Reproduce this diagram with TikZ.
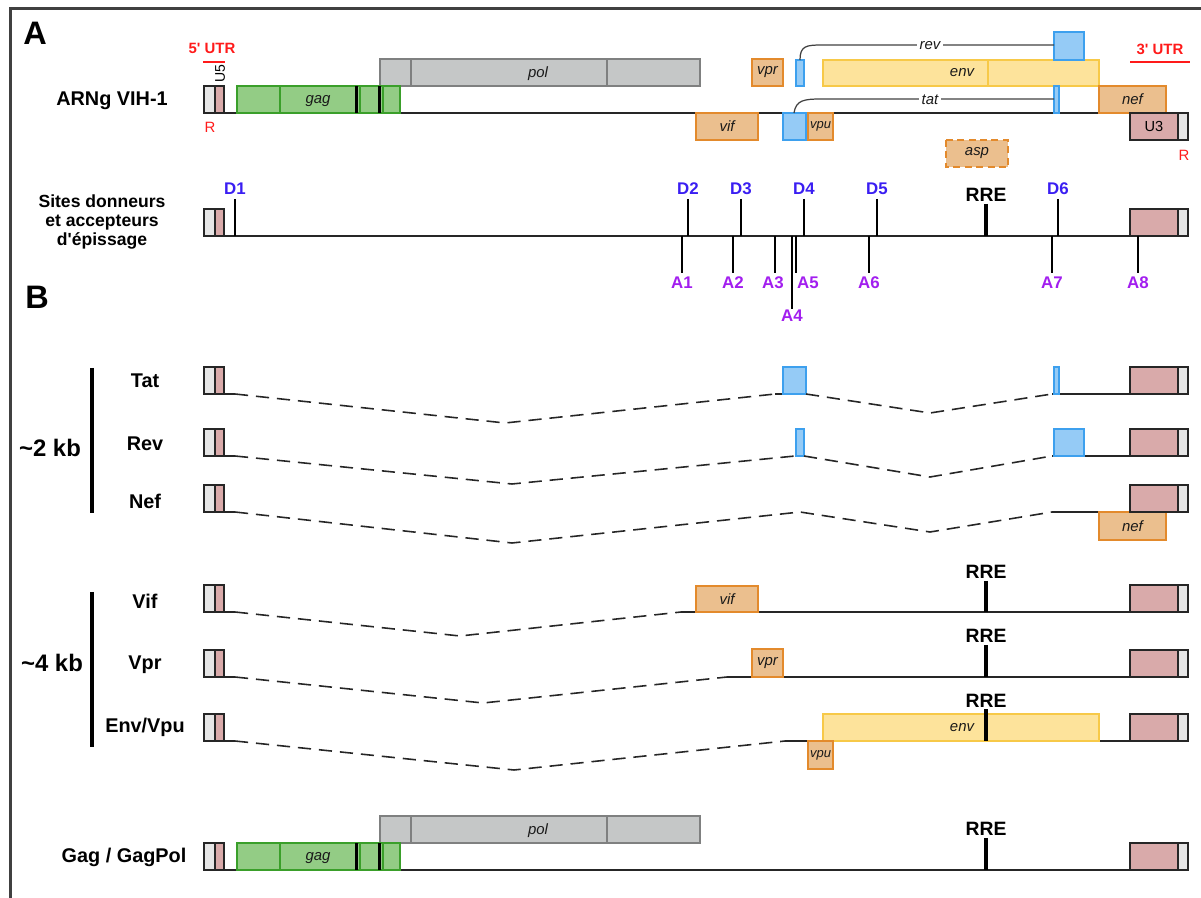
\documentclass[tikz,border=0pt]{standalone}
\usepackage{fontspec}
\setmainfont{Liberation Sans}
\usetikzlibrary{positioning}
\definecolor{rcol}{HTML}{E6E6E6}
\definecolor{ucol}{HTML}{D9AAAA}
\definecolor{gagfill}{HTML}{93CC85}
\definecolor{gagline}{HTML}{3A9F2A}
\definecolor{polfill}{HTML}{C5C7C7}
\definecolor{polline}{HTML}{7F8080}
\definecolor{accfill}{HTML}{EBBF8E}
\definecolor{accline}{HTML}{E38A2C}
\definecolor{revfill}{HTML}{95CBF6}
\definecolor{revline}{HTML}{3DA0EE}
\definecolor{envfill}{HTML}{FDE39B}
\definecolor{envline}{HTML}{F7C948}
\definecolor{utrred}{HTML}{FF1A1A}
\definecolor{donor}{HTML}{3A1EF2}
\definecolor{acceptor}{HTML}{A21EEF}
\definecolor{darktext}{HTML}{1A1A1A}

% LTR ends of an RNA whose line sits at y=#1
\newcommand{\ltrleft}[1]{%
  \draw[ltr, fill=rcol] (204,#1-27) rectangle (215,#1);
  \draw[ltr, fill=ucol] (215,#1-27) rectangle (224,#1);}
\newcommand{\ltrright}[1]{%
  \draw[ltr, fill=ucol] (1130,#1-27) rectangle (1178,#1);
  \draw[ltr, fill=rcol] (1178,#1-27) rectangle (1188,#1);}
% gag and pol frames
\newcommand{\gagpol}[1]{%
  \draw[polbox] (380,#1-54) rectangle (700,#1-27);
  \draw[draw=polline, line width=0.9pt] (411,#1-54) -- (411,#1-27) (607,#1-54) -- (607,#1-27);
  \node[gene] (pol#1) at (538,#1-39) {pol};
  \draw[gagbox] (237,#1-27) rectangle (400,#1);
  \draw[draw=gagline, line width=0.9pt] (280,#1-27) -- (280,#1) (360,#1-27) -- (360,#1) (383,#1-27) -- (383,#1);
  \draw[line width=1.8pt] (356.5,#1-27) -- (356.5,#1) (379.5,#1-27) -- (379.5,#1);
  \node[gene] (gag#1) at (318,#1-12) {gag};}

\begin{document}
\begin{tikzpicture}[x=0.02cm, y=-0.02cm,
  rna/.style={line width=0.9pt, draw=black!85},
  intron/.style={rna, dash pattern=on 7.5pt off 4.5pt},
  ltr/.style={draw=black!85, line width=0.9pt},
  gagbox/.style={draw=gagline, fill=gagfill, line width=0.9pt},
  polbox/.style={draw=polline, fill=polfill, line width=0.9pt},
  accbox/.style={draw=accline, fill=accfill, line width=0.9pt},
  revbox/.style={draw=revline, fill=revfill, line width=0.8pt},
  envbox/.style={draw=envline, fill=envfill, line width=0.9pt},
  gene/.style={font=\fontsize{8.5}{10}\selectfont\itshape, text=darktext},
  small/.style={font=\fontsize{7.4}{9}\selectfont\itshape, text=darktext},
  rowlab/.style={font=\fontsize{11.3}{13}\selectfont\bfseries, align=center},
  panel/.style={font=\fontsize{18.5}{20}\selectfont\bfseries},
  sizelab/.style={font=\fontsize{13.6}{15}\selectfont\bfseries},
  utr/.style={font=\fontsize{8.5}{10}\selectfont\bfseries, text=utrred},
  rlab/.style={font=\fontsize{8.5}{10}\selectfont, text=utrred},
  dsite/.style={font=\fontsize{9.6}{11}\selectfont\bfseries, text=donor},
  asite/.style={font=\fontsize{9.6}{11}\selectfont\bfseries, text=acceptor},
  sitetick/.style={line width=0.9pt},
  rre/.style={line width=2.8pt},
  rrelab/.style={font=\fontsize{11}{13}\selectfont\bfseries},
  kbbar/.style={line width=2.5pt},
]
\clip (0,0) rectangle (1201,898);
\draw[line width=1.2pt, draw=black!75] (10.5,910) -- (10.5,8.5) -- (1215,8.5);

% ---- A : genome
\node[panel] (pA) at (35,33) {A};
\node[utr] (utr5) at (212,48) {5\textquotesingle{} UTR};
\draw[utrred, line width=1.2pt] (203,62) -- (225,62);
\node[utr] (utr3) at (1160,49) {3\textquotesingle{} UTR};
\draw[utrred, line width=1.2pt] (1130,62) -- (1190,62);
\node[rowlab] (arng) at (112,101) {ARNg VIH-1};
\draw[rna] (204,113) -- (1188,113);
\gagpol{113}
\ltrleft{113}
\node[font=\fontsize{8}{9}\selectfont, rotate=90] (u5) at (220,74) {U5};
\node[rlab] (r5) at (210,127) {R};
\draw[accbox] (696,113) rectangle (758,140) node[midway, gene] (vif) {vif};
\draw[accbox] (752,59) rectangle (783,86) node[midway, gene] (vpr) {vpr};
\draw[revbox] (796,60) rectangle (804,86);
\draw[envbox] (823,60) rectangle (1099,86);
\draw[draw=envline, line width=0.9pt] (988,60) -- (988,86);
\node[gene] (env) at (962,73) {env};
\draw[revbox] (1054,32) rectangle (1084,60);
\draw[revbox] (1054,86) rectangle (1059,113);
\draw[revbox] (783,113) rectangle (806,140);
\draw[accbox] (808,113) rectangle (833,140) node[midway, small] (vpu) {vpu};
\draw[accbox] (1099,86) rectangle (1166,113) node[midway, gene] (nef) {nef};
\draw[ltr, fill=ucol] (1130,113) rectangle (1178,140) node[midway, font=\fontsize{8.3}{9}\selectfont] (u3) {U3};
\draw[ltr, fill=rcol] (1178,113) rectangle (1188,140);
\node[rlab] (r3) at (1184,155) {R};
\draw[accbox, dash pattern=on 4pt off 2.5pt] (946,140) rectangle (1008,167) node[midway, gene] (asp) {asp};
% rev and tat exon links
\coordinate (revS) at (800,60);
\coordinate (revE) at (1054,45);
\coordinate (tatS) at (794,113);
\coordinate (tatE) at (1054,99);
\draw[line width=0.7pt, black!75] (revS) .. controls (800,46) and (806,45) .. (822,45) -- (revE);
\draw[line width=0.7pt, black!75] (tatS) .. controls (796,100) and (804,99) .. (822,99) -- (tatE);
\node[gene, fill=white, inner sep=1.5pt] (rev) at (930,46) {rev};
\node[gene, fill=white, inner sep=1.5pt] (tat) at (930,100) {tat};

% ---- A : splice sites
\node[rowlab, font=\fontsize{10}{10.6}\selectfont\bfseries] (sites) at (102,222) {Sites donneurs\\et accepteurs\\d\textquotesingle{}épissage};
\draw[rna] (204,236) -- (1188,236);
\ltrleft{236}
\ltrright{236}
\foreach \x/\n in {235/1,688/2,741/3,804/4,877/5,1058/6}{
  \draw[sitetick] (\x,199) -- (\x,236);
  \node[dsite] (D\n) at (\x,189) {D\n};
}
\foreach \x/\lx/\n in {682/682/1,733/733/2,775/773/3,796/808/5,869/869/6,1052/1052/7,1138/1138/8}{
  \draw[sitetick] (\x,236) -- (\x,273);
  \node[asite] (A\n) at (\lx,283) {A\n};
}
\draw[sitetick] (792,236) -- (792,309);
\node[asite] (A4) at (792,316) {A4};
\draw[rre] (986,204) -- (986,236);
\node[rrelab] (rre0) at (986,195) {RRE};

% ---- B : ~2 kb
\node[panel] (pB) at (37,297) {B};
\draw[kbbar] (92,368) -- (92,513);
\node[sizelab] (kb2) at (50,448) {\textasciitilde2 kb};
\node[rowlab] (tatrow) at (145,381) {Tat};
\node[rowlab] (revrow) at (145,444) {Rev};
\node[rowlab] (nefrow) at (145,501) {Nef};

% Tat
\ltrleft{394}
\draw[rna] (224,394) -- (235,394);
\draw[intron] (235,394) -- (505,423) -- (775,394);
\draw[rna] (775,394) -- (806,394);
\draw[revbox] (783,367) rectangle (806,394);
\draw[intron] (806,394) -- (930,413) -- (1052,394);
\draw[rna] (1052,394) -- (1130,394);
\draw[revbox] (1054,367) rectangle (1059,394);
\ltrright{394}
% Rev
\ltrleft{456}
\draw[rna] (224,456) -- (235,456);
\draw[intron] (235,456) -- (512,484) -- (795,456);
\draw[rna] (795,456) -- (804,456);
\draw[revbox] (796,429) rectangle (804,456);
\draw[intron] (804,456) -- (930,477) -- (1052,456);
\draw[rna] (1052,456) -- (1130,456);
\draw[revbox] (1054,429) rectangle (1084,456);
\ltrright{456}
% Nef
\ltrleft{512}
\draw[rna] (224,512) -- (235,512);
\draw[intron] (235,512) -- (512,543) -- (800,512) -- (930,532) -- (1052,512);
\draw[rna] (1052,512) -- (1130,512);
\draw[accbox] (1099,512) rectangle (1166,540) node[midway, gene] (nefB) {nef};
\ltrright{512}

% ---- B : ~4 kb
\draw[kbbar] (92,592) -- (92,747);
\node[sizelab] (kb4) at (52,663) {\textasciitilde4 kb};
\node[rowlab] (vifrow) at (145,601) {Vif};
\node[rowlab] (vprrow) at (145,665) {Vpr};
\node[rowlab] (envrow) at (145,727) {Env/Vpu};

% Vif
\ltrleft{612}
\draw[rna] (224,612) -- (235,612);
\draw[intron] (235,612) -- (460,636) -- (681,612);
\draw[rna] (681,612) -- (1130,612);
\draw[accbox] (696,586) rectangle (758,612) node[midway, gene] (vifB) {vif};
\draw[rre] (986,581) -- (986,612);
\node[rrelab] (rre1) at (986,572) {RRE};
\ltrright{612}
% Vpr
\ltrleft{677}
\draw[rna] (224,677) -- (235,677);
\draw[intron] (235,677) -- (483,703) -- (727,677);
\draw[rna] (727,677) -- (1130,677);
\draw[accbox] (752,649) rectangle (783,677) node[midway, gene] (vprB) {vpr};
\draw[rre] (986,645) -- (986,677);
\node[rrelab] (rre2) at (986,636) {RRE};
\ltrright{677}
% Env/Vpu
\ltrleft{741}
\draw[rna] (224,741) -- (235,741);
\draw[intron] (235,741) -- (514,770) -- (785,741);
\draw[rna] (785,741) -- (1130,741);
\draw[envbox] (823,714) rectangle (1099,741);
\node[gene] (envB) at (962,728) {env};
\draw[accbox] (808,741) rectangle (833,769) node[midway, small] (vpuB) {vpu};
\draw[rre] (986,709) -- (986,741);
\node[rrelab] (rre3) at (986,701) {RRE};
\ltrright{741}

% ---- B : unspliced
\node[rowlab] (gagrow) at (124,857) {Gag / GagPol};
\draw[rna] (204,870) -- (1188,870);
\gagpol{870}
\ltrleft{870}
\draw[rre] (986,838) -- (986,870);
\node[rrelab] (rre4) at (986,829) {RRE};
\ltrright{870}
\end{tikzpicture}
\end{document}
